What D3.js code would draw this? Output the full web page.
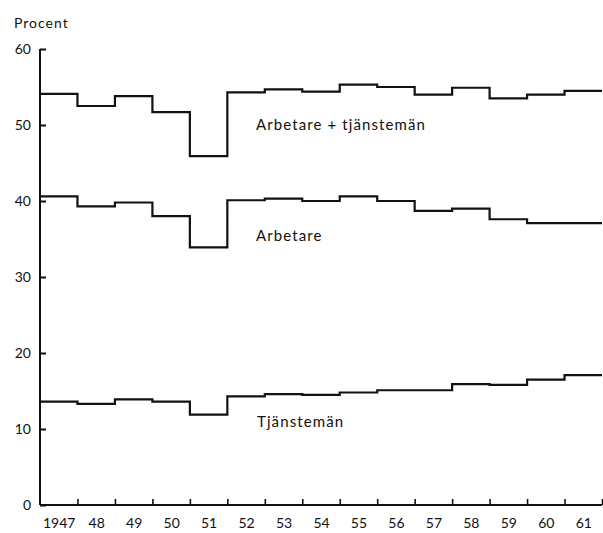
<!DOCTYPE html>
<html><head><meta charset="utf-8">
<script src="https://cdn.jsdelivr.net/npm/d3@7"></script>
<style>
html,body{margin:0;padding:0;background:#fff;}
svg text{font-family:Lato,"DejaVu Sans",sans-serif;fill:#111;}
</style></head>
<body><svg id="c" width="603" height="533"></svg>
<script>
const years = [1947,1948,1949,1950,1951,1952,1953,1954,1955,1956,1957,1958,1959,1960,1961];
const yearLabels = ["1947","48","49","50","51","52","53","54","55","56","57","58","59","60","61"];
const arbetareTjanstemanValues = [54.1,52.5,53.8,51.7,45.9,54.3,54.7,54.4,55.3,55.0,54.0,54.9,53.5,54.0,54.5];
const arbetareValues = [40.6,39.3,39.8,38.0,33.9,40.1,40.3,40.0,40.6,40.0,38.7,39.0,37.6,37.1,37.1];
const tjanstemanValues = [13.6,13.3,13.9,13.6,11.9,14.3,14.6,14.5,14.8,15.1,15.1,15.9,15.8,16.5,17.1];
const yTicks = [0,10,20,30,40,50,60];
const seriesNames = ["Arbetare + tjänstemän","Arbetare","Tjänstemän"];

const svg = d3.select("#c");
const x = d3.scaleLinear().domain([1947,1962]).range([40,602]);
const y = d3.scaleLinear().domain([0,60]).range([505,49]);

// y axis
const ya = svg.append("g").attr("transform","translate(40,0)")
  .call(d3.axisRight(y).tickValues(yTicks).tickSize(6).tickFormat(""));
ya.select(".domain").attr("d","M0,"+y(60)+"V"+y(0)).attr("stroke","#111").attr("stroke-width",2);
ya.selectAll(".tick line").attr("stroke","#111").attr("stroke-width",2);
const yl = svg.append("g").attr("transform","translate(31,0)")
  .call(d3.axisLeft(y).tickValues(yTicks).tickSize(0).tickPadding(0).tickFormat(d3.format("d")));
yl.select(".domain").remove();
yl.selectAll("text").attr("font-size",14);

// x axis
const boundaries = years.slice(1).concat([1962]);
const xa = svg.append("g").attr("transform","translate(0,505)")
  .call(d3.axisTop(x).tickValues(boundaries).tickSize(6).tickFormat(""));
xa.select(".domain").attr("d","M40,0H602").attr("stroke","#111").attr("stroke-width",2);
xa.selectAll(".tick line").attr("stroke","#111").attr("stroke-width",1.6);
const xl = svg.append("g").attr("transform","translate(0,505)")
  .call(d3.axisBottom(x).tickValues(years.map(v=>v+0.5)).tickSize(0).tickPadding(13)
  .tickFormat((d,i)=>yearLabels[i]));
xl.select(".domain").remove();
xl.selectAll("text").attr("font-size",14);

svg.append("text").attr("x",14).attr("y",28).attr("font-size",14).attr("letter-spacing",1).text("Procent");

const line = d3.line().x(d=>x(d[0])).y(d=>y(d[1])).curve(d3.curveStepAfter);
[arbetareTjanstemanValues, arbetareValues, tjanstemanValues].forEach(vals=>{
  const pts = years.map((yr,i)=>[yr,vals[i]]);
  pts.push([1962, vals[vals.length-1]]);
  svg.append("path").datum(pts).attr("d",line).attr("fill","none")
    .attr("stroke","#111").attr("stroke-width",2.2);
});

const labelPos = [[256,130],[256,241],[257,427]];
seriesNames.forEach((n,i)=>{
  svg.append("text").attr("x",labelPos[i][0]).attr("y",labelPos[i][1])
    .attr("font-size",15).attr("letter-spacing",1.1).text(n);
});
</script></body></html>
